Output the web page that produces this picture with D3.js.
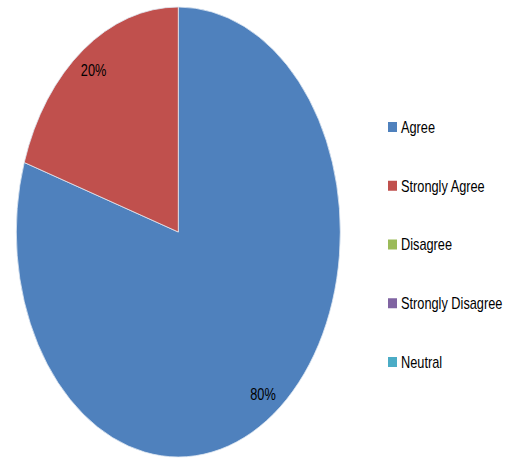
<!DOCTYPE html>
<html>
<head>
<meta charset="utf-8">
<script src="https://cdn.jsdelivr.net/npm/d3@7"></script>
<style>
  html, body { margin: 0; padding: 0; background: #fff; }
  svg { display: block; }
  text { font-family: "Liberation Sans", Arial, sans-serif; }
</style>
</head>
<body>
<svg id="chart" width="516" height="460"></svg>
<script>
// Survey responses (percent)
const categories = ["Agree", "Strongly Agree", "Disagree", "Strongly Disagree", "Neutral"];
const values = [80, 20, 0, 0, 0];
const colors = ["#4F81BD", "#C0504D", "#9BBB59", "#8064A2", "#4BACC6"];

const svg = d3.select("#chart");
const cx = 178.3, cy = 232, rx = 162, ry = 225;
const narrow = 0.76; // horizontal squeeze for a condensed look of the text
const fontSize = 16.8;

const color = d3.scaleOrdinal().domain(categories).range(colors);
const data = categories.map((c, i) => ({ category: c, value: values[i] }));
const pie = d3.pie().sort(null).value(d => d.value);
const arcs = pie(data);

const arc = d3.arc().innerRadius(0).outerRadius(ry);
const labelArc = d3.arc().innerRadius(ry * 0.89).outerRadius(ry * 0.89);

// Pie drawn on a circle of radius ry, squeezed horizontally into an ellipse
const g = svg.append("g")
  .attr("transform", `translate(${cx},${cy}) scale(${rx / ry},1)`);

g.selectAll("path.slice")
  .data(arcs.filter(d => d.data.value > 0))
  .join("path")
  .attr("class", "slice")
  .attr("d", arc)
  .attr("fill", d => color(d.data.category))
  .attr("stroke", "#dfe8f3")
  .attr("stroke-width", 0.8)
  .attr("vector-effect", "non-scaling-stroke");

// Percentage labels
const total = d3.sum(values);
svg.append("g")
  .selectAll("text")
  .data(arcs.filter(d => d.data.value > 0))
  .join("text")
  .attr("transform", d => {
    const [x, y] = labelArc.centroid(d);
    return `translate(${cx + x * rx / ry},${cy + y}) scale(${narrow},1)`;
  })
  .attr("dy", "0.35em")
  .attr("text-anchor", "middle")
  .attr("font-size", fontSize)
  .attr("fill", "#000")
  .text(d => Math.round(d.data.value / total * 100) + "%");

// Legend
const legendY = d3.scalePoint().domain(categories).range([127, 362]);
const legend = svg.append("g")
  .selectAll("g")
  .data(categories)
  .join("g")
  .attr("transform", c => `translate(388,${legendY(c)})`);

legend.append("rect")
  .attr("x", 0).attr("y", -5)
  .attr("width", 9).attr("height", 10)
  .attr("fill", c => color(c));

legend.append("text")
  .attr("transform", `translate(13,0) scale(${narrow},1)`)
  .attr("dy", "0.35em")
  .attr("font-size", fontSize)
  .attr("fill", "#000")
  .text(c => c);
</script>
</body>
</html>
